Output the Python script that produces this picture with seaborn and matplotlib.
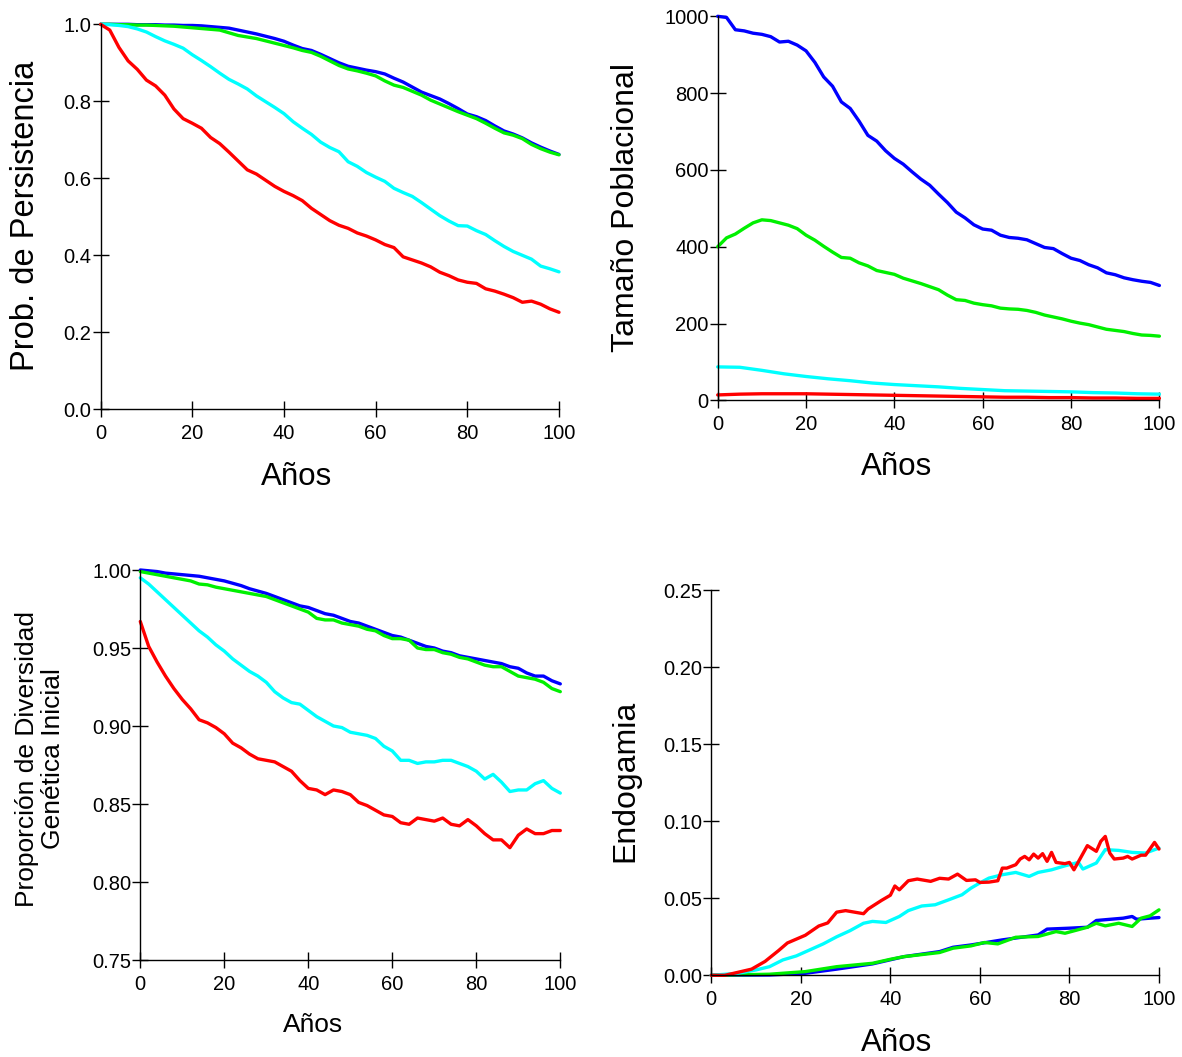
import numpy as np
import pandas as pd
import matplotlib
matplotlib.use("Agg")
import matplotlib.pyplot as plt
import seaborn as sns

# ---------------- data ----------------
years2 = list(range(0, 101, 2))
years5 = list(range(0, 101, 5))

# Panel 1: Prob. de Persistencia
p1_blue = [1.0, 1.0, 1.0, 1.0, 0.999, 0.999, 0.999, 0.998, 0.998, 0.997, 0.997, 0.996, 0.994, 0.992,
           0.99, 0.985, 0.98, 0.975, 0.969, 0.963, 0.956, 0.946, 0.937, 0.932, 0.922, 0.911, 0.9, 0.891,
           0.886, 0.881, 0.877, 0.871, 0.86, 0.85, 0.837, 0.824, 0.815, 0.806, 0.794, 0.781, 0.767, 0.76,
           0.75, 0.736, 0.723, 0.715, 0.705, 0.692, 0.681, 0.671, 0.662]
p1_green = [1.0, 1.0, 0.999, 0.999, 0.998, 0.998, 0.997, 0.996, 0.995, 0.993, 0.991, 0.989, 0.987, 0.985,
            0.978, 0.971, 0.967, 0.963, 0.957, 0.951, 0.945, 0.939, 0.932, 0.927, 0.917, 0.905, 0.893, 0.884,
            0.879, 0.873, 0.866, 0.853, 0.842, 0.836, 0.826, 0.816, 0.803, 0.793, 0.783, 0.773, 0.764, 0.755,
            0.743, 0.73, 0.718, 0.712, 0.703, 0.688, 0.677, 0.668, 0.661]
p1_cyan = [1.0, 0.999, 0.997, 0.994, 0.988, 0.98, 0.968, 0.957, 0.948, 0.938, 0.921, 0.906, 0.89, 0.873,
           0.857, 0.845, 0.832, 0.814, 0.799, 0.784, 0.768, 0.747, 0.73, 0.714, 0.694, 0.68, 0.669, 0.643,
           0.631, 0.615, 0.603, 0.592, 0.574, 0.563, 0.553, 0.537, 0.52, 0.503, 0.489, 0.477, 0.476, 0.464,
           0.454, 0.438, 0.423, 0.41, 0.4, 0.39, 0.372, 0.365, 0.357]
p1_red = [1.0, 0.985, 0.94, 0.905, 0.883, 0.855, 0.84, 0.816, 0.78, 0.755, 0.743, 0.73, 0.706, 0.69,
          0.668, 0.645, 0.622, 0.611, 0.595, 0.579, 0.566, 0.555, 0.542, 0.522, 0.506, 0.49, 0.478, 0.47,
          0.458, 0.45, 0.44, 0.428, 0.42, 0.396, 0.388, 0.38, 0.37, 0.356, 0.347, 0.336, 0.33, 0.327,
          0.313, 0.307, 0.299, 0.29, 0.278, 0.281, 0.273, 0.261, 0.252]

# Panel 2: Tamaño Poblacional
p2_blue = [1000, 997, 965, 962, 956, 953, 947, 933, 935, 925, 910, 880, 842, 818, 777, 760, 727, 690,
           675, 650, 630, 615, 595, 576, 560, 537, 515, 490, 475, 457, 446, 443, 430, 424, 422, 418,
           408, 398, 395, 382, 370, 364, 353, 345, 332, 327, 319, 314, 310, 307, 299]
p2_green = [400, 423, 433, 448, 462, 470, 468, 462, 456, 447, 430, 417, 401, 386, 372, 370, 358, 350,
            338, 333, 328, 318, 311, 304, 296, 288, 274, 262, 260, 253, 249, 246, 240, 238, 237, 234,
            229, 222, 217, 212, 206, 201, 197, 191, 185, 182, 179, 174, 170, 169, 167]
p2_cyan = [87, 86, 78, 69, 62, 56, 51, 45, 41, 38, 35, 31, 28, 25, 24, 23, 22, 20, 19, 17, 16]
p2_red = [14, 16, 17, 17, 17, 16, 15, 14, 13, 12, 11, 10, 9, 8, 8, 7, 7, 6, 6, 5, 5]

# Panel 3: Proporción de Diversidad Genética Inicial
p3_blue = [1.0, 0.9995, 0.999, 0.998, 0.9975, 0.997, 0.9965, 0.996, 0.995, 0.994, 0.993, 0.9915, 0.99,
           0.988, 0.9865, 0.985, 0.983, 0.981, 0.979, 0.977, 0.976, 0.974, 0.972, 0.971, 0.969, 0.967,
           0.966, 0.964, 0.962, 0.96, 0.958, 0.957, 0.955, 0.953, 0.951, 0.95, 0.948, 0.947, 0.945, 0.944,
           0.943, 0.942, 0.941, 0.94, 0.938, 0.937, 0.934, 0.932, 0.932, 0.929, 0.927]
p3_green = [0.999, 0.998, 0.997, 0.996, 0.995, 0.994, 0.993, 0.991, 0.9905, 0.989, 0.988, 0.987, 0.986,
            0.985, 0.984, 0.983, 0.981, 0.979, 0.977, 0.975, 0.973, 0.969, 0.968, 0.968, 0.966, 0.965,
            0.964, 0.962, 0.961, 0.958, 0.956, 0.956, 0.955, 0.95, 0.949, 0.949, 0.947, 0.946, 0.944,
            0.943, 0.941, 0.939, 0.938, 0.938, 0.935, 0.932, 0.931, 0.93, 0.928, 0.924, 0.922]
p3_cyan = [0.995, 0.991, 0.986, 0.981, 0.976, 0.971, 0.966, 0.961, 0.957, 0.952, 0.948, 0.943, 0.939,
           0.935, 0.932, 0.928, 0.922, 0.918, 0.915, 0.914, 0.91, 0.906, 0.903, 0.9, 0.899, 0.896, 0.895,
           0.894, 0.892, 0.887, 0.884, 0.878, 0.878, 0.876, 0.877, 0.877, 0.878, 0.878, 0.876, 0.874,
           0.871, 0.866, 0.869, 0.864, 0.858, 0.859, 0.859, 0.863, 0.865, 0.86, 0.857]
p3_red = [0.967, 0.951, 0.941, 0.932, 0.924, 0.917, 0.911, 0.904, 0.902, 0.899, 0.895, 0.889, 0.886,
          0.882, 0.879, 0.878, 0.877, 0.874, 0.871, 0.865, 0.86, 0.859, 0.856, 0.859, 0.858, 0.856, 0.851,
          0.849, 0.846, 0.843, 0.842, 0.838, 0.837, 0.841, 0.84, 0.839, 0.841, 0.837, 0.836, 0.84, 0.836,
          0.831, 0.827, 0.827, 0.822, 0.83, 0.834, 0.831, 0.831, 0.833, 0.833]

# Panel 4: Endogamia
p4_blue_years = [0, 13, 21, 28, 36, 43, 51, 54, 58, 65, 73, 75, 80, 84, 86, 92, 94, 95, 98, 100]
p4_blue = [0, 0.0002, 0.0013, 0.004, 0.0074, 0.0121, 0.0154, 0.0182, 0.0197, 0.023, 0.0262, 0.030,
           0.0306, 0.0312, 0.0356, 0.0371, 0.0382, 0.0364, 0.0371, 0.0375]
p4_green_years = [0, 13, 21, 28, 36, 40, 43, 51, 54, 58, 61, 64, 68, 73, 77, 79, 84, 86, 88, 91, 94,
                  96, 98, 100]
p4_green = [0, 0.0007, 0.0024, 0.0056, 0.0078, 0.0104, 0.0121, 0.0148, 0.0176, 0.0191, 0.0213, 0.0204,
            0.0247, 0.0252, 0.0284, 0.0273, 0.0312, 0.0338, 0.0321, 0.0338, 0.0317, 0.0371, 0.0386, 0.0425]
p4_cyan_years = [0, 6, 10, 13, 16, 19, 22, 25, 28, 31, 34, 36, 39, 42, 44, 47, 50, 53, 56, 58, 60, 62,
                 65, 68, 71, 73, 76, 79, 82, 83, 86, 88, 91, 94, 97, 100]
p4_cyan = [0, 0.0013, 0.0035, 0.0056, 0.010, 0.0126, 0.0165, 0.0204, 0.025, 0.029, 0.0338, 0.035,
           0.0343, 0.0382, 0.042, 0.045, 0.0458, 0.049, 0.0523, 0.0566, 0.06, 0.0631, 0.0653, 0.0668,
           0.0642, 0.0668, 0.0685, 0.0711, 0.0733, 0.069, 0.0729, 0.0816, 0.0811, 0.0798, 0.0794, 0.0826]
p4_red_years = [0, 3, 5, 9, 12, 15, 17, 21, 24, 26, 28, 30, 34, 35, 38, 40, 41, 42, 44, 46, 49, 51, 53,
                55, 57, 59, 60, 62, 64, 65, 66, 68, 69, 70, 71, 72, 73, 74, 75, 76, 77, 79, 80, 81, 84,
                86, 87, 88, 89, 90, 92, 93, 94, 96, 97, 99, 100]
p4_red = [0, 0, 0.0013, 0.004, 0.009, 0.016, 0.021, 0.026, 0.032, 0.034, 0.041, 0.042, 0.040, 0.043,
          0.0486, 0.052, 0.058, 0.0555, 0.0614, 0.0625, 0.061, 0.063, 0.0625, 0.0657, 0.0616, 0.062,
          0.0603, 0.0605, 0.0614, 0.0696, 0.0696, 0.0718, 0.0755, 0.0772, 0.075, 0.0787, 0.0761, 0.079,
          0.074, 0.0798, 0.0733, 0.0725, 0.0733, 0.0685, 0.0842, 0.0805, 0.087, 0.0902, 0.0794, 0.0755,
          0.0761, 0.0772, 0.0755, 0.078, 0.078, 0.0863, 0.082]

series_names = ["azul", "verde", "cian", "rojo"]
palette = {"azul": "#0000ff", "verde": "#00f000", "cian": "#00ffff", "rojo": "#ff0000"}


def long_df(parts):
    frames = []
    for name, xs, ys in parts:
        frames.append(pd.DataFrame({"Años": xs, "valor": ys, "serie": name}))
    return pd.concat(frames, ignore_index=True)


df1 = long_df([("azul", years2, p1_blue), ("verde", years2, p1_green),
               ("cian", years2, p1_cyan), ("rojo", years2, p1_red)])
df2 = long_df([("azul", years2, p2_blue), ("verde", years2, p2_green),
               ("cian", years5, p2_cyan), ("rojo", years5, p2_red)])
df3 = long_df([("azul", years2, p3_blue), ("verde", years2, p3_green),
               ("cian", years2, p3_cyan), ("rojo", years2, p3_red)])
df4 = long_df([("azul", p4_blue_years, p4_blue), ("verde", p4_green_years, p4_green),
               ("cian", p4_cyan_years, p4_cyan), ("rojo", p4_red_years, p4_red)])

# ---------------- style ----------------
sns.set_style("ticks")
plt.rcParams["font.family"] = ["Liberation Sans", "DejaVu Sans"]
plt.rcParams["text.color"] = "black"
plt.rcParams["axes.labelcolor"] = "black"
plt.rcParams["xtick.color"] = "black"
plt.rcParams["ytick.color"] = "black"

W, H = 1182, 1057
fig = plt.figure(figsize=(W / 100, H / 100), dpi=100)


def add_ax(left, right, top, bottom):
    return fig.add_axes([left / W, 1 - bottom / H, (right - left) / W, (bottom - top) / H])


def style(ax, ylim, yticks, yfmt, xpad):
    ax.set_xlim(0, 100)
    ax.set_ylim(*ylim)
    ax.set_xticks([0, 20, 40, 60, 80, 100])
    ax.set_yticks(yticks)
    ax.set_yticklabels([yfmt.format(v) for v in yticks])
    for s in ["top", "right"]:
        ax.spines[s].set_visible(False)
    for s in ["left", "bottom"]:
        ax.spines[s].set_color("black")
        ax.spines[s].set_linewidth(1.0)
    ax.tick_params(axis="both", direction="inout", length=11, width=1.0, color="black",
                   labelsize=14.5, labelcolor="black")
    ax.tick_params(axis="y", pad=1)
    ax.tick_params(axis="x", pad=xpad)
    ax.set_xlabel("")
    ax.set_ylabel("")
    if ax.get_legend() is not None:
        ax.get_legend().remove()
    for ln in ax.get_lines():
        ln.set_clip_on(False)
    ax.set_facecolor("none")


def draw(ax, df):
    sns.lineplot(data=df, x="Años", y="valor", hue="serie", hue_order=series_names,
                 palette=palette, linewidth=2.4, estimator=None, ax=ax, legend=False)


ax1 = add_ax(100.6, 559, 24.3, 409.3)
draw(ax1, df1)
style(ax1, (0, 1), [0.0, 0.2, 0.4, 0.6, 0.8, 1.0], "{:.1f}", 5)

ax2 = add_ax(717.7, 1159.4, 16.3, 400.3)
draw(ax2, df2)
style(ax2, (0, 1000), [0, 200, 400, 600, 800, 1000], "{:.0f}", 5)

ax3 = add_ax(140.3, 560.3, 570, 960)
draw(ax3, df3)
style(ax3, (0.75, 1.0), [0.75, 0.80, 0.85, 0.90, 0.95, 1.00], "{:.2f}", 5)

ax4 = add_ax(711.3, 1159, 590.3, 975.3)
draw(ax4, df4)
style(ax4, (0, 0.25), [0.00, 0.05, 0.10, 0.15, 0.20, 0.25], "{:.2f}", 5)


def ftext(x, y, s, size, rot=0, **kw):
    fig.text(x / W, 1 - y / H, s, fontsize=size, rotation=rot, ha="center", va="center",
             color="black", **kw)


ftext(26, 216, "Prob. de Persistencia", 23.5, 90)
ftext(297, 477, "Años", 22.5)
ftext(626, 207, "Tamaño Poblacional", 23, 90)
ftext(897, 467, "Años", 22.5)
ftext(40, 759, "Proporción de Diversidad\nGenética Inicial", 19, 90, linespacing=1.1)
ftext(313, 1025, "Años", 19)
ftext(625, 781, "Endogamia", 23, 90)
ftext(897, 1043, "Años", 22.5)

fig.savefig("out.png", dpi=100)
